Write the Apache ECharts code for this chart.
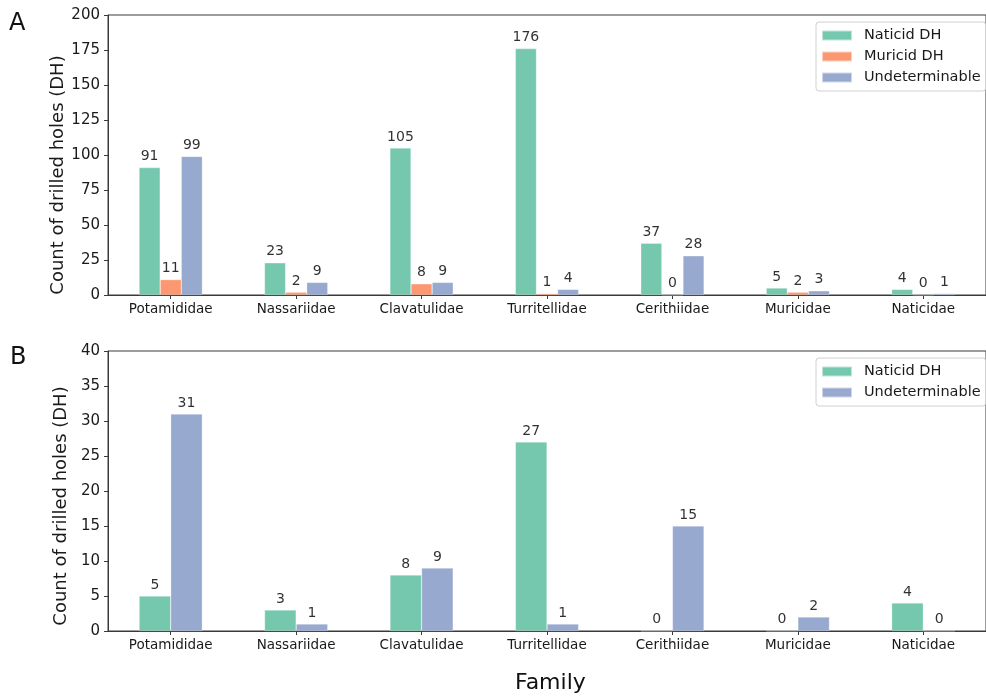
<!DOCTYPE html>
<html>
<head>
<meta charset="utf-8">
<script src="https://cdn.jsdelivr.net/npm/echarts@6/dist/echarts.min.js"></script>
<style>
html,body{margin:0;padding:0;background:#fff;}
#chart{width:986px;height:698px;}
</style>
</head>
<body>
<div id="chart"></div>
<script>
const families = ['Potamididae','Nassariidae','Clavatulidae','Turritellidae','Cerithiidae','Muricidae','Naticidae'];
// Panel A
const naticidA = [91, 23, 105, 176, 37, 5, 4];
const muricidA = [11, 2, 8, 1, 0, 2, 0];
const undetA   = [99, 9, 9, 4, 28, 3, 1];
// Panel B
const naticidB = [5, 3, 8, 27, 0, 0, 4];
const undetB   = [31, 1, 9, 1, 15, 2, 0];
const yTicksA = {min: 0, max: 200, interval: 25};
const yTicksB = {min: 0, max: 40, interval: 5};
const yTitle = 'Count of drilled holes (DH)';

const FONT = 'DejaVu Sans';
const TXT = '#1a1a1a';
const SPINE = '#3a3a3a';
const C_NAT = '#66c2a5', C_MUR = '#fc8d62', C_UND = '#8da0cb';

const chart = echarts.init(document.getElementById('chart'), null, {renderer: 'canvas'});

function xAxis(gi) {
  return {
    type: 'category', gridIndex: gi, data: families,
    axisLine: {show: true, lineStyle: {color: SPINE, width: 1}},
    axisTick: {show: true, alignWithLabel: true, length: 4, lineStyle: {color: SPINE}},
    axisLabel: {color: TXT, fontFamily: FONT, fontSize: 13.5, margin: 7},
    splitLine: {show: false}
  };
}
function yAxis(gi, t) {
  return {
    type: 'value', gridIndex: gi, min: t.min, max: t.max, interval: t.interval,
    axisLine: {show: true, lineStyle: {color: SPINE, width: 1}},
    axisTick: {show: true, length: 4, lineStyle: {color: SPINE}},
    axisLabel: {color: TXT, fontFamily: FONT, fontSize: 15, margin: 8},
    splitLine: {show: false}
  };
}
function bar(name, data, color, xi, bw) {
  return {
    type: 'bar', name: name, data: data, xAxisIndex: xi, yAxisIndex: xi,
    barWidth: bw, barGap: '0%',
    itemStyle: {color: color, opacity: 0.9, borderColor: 'rgba(255,255,255,0.6)', borderWidth: 0.5},
    label: {show: true, position: 'top', distance: 4, color: TXT, fontFamily: FONT, fontSize: 14},
    emphasis: {disabled: true},
    animation: false
  };
}
const legendBase = {
  orient: 'vertical', left: 816, itemWidth: 30, itemHeight: 10, itemGap: 6,
  padding: [6, 5, 6, 5],
  backgroundColor: '#fff', borderColor: '#d0d0d0', borderWidth: 1, borderRadius: 3,
  textStyle: {color: TXT, fontFamily: FONT, fontSize: 14.5, padding: [0, 0, 0, 7]},
  icon: 'rect', selectedMode: false
};
function rotTitle(x, y) {
  return {type: 'text', x: x, y: y, rotation: Math.PI / 2,
    style: {text: yTitle, font: '18px "DejaVu Sans"', fill: TXT, textAlign: 'center', textVerticalAlign: 'middle'}};
}

chart.setOption({
  animation: false,
  backgroundColor: '#fff',
  grid: [
    {left: 108, right: -8, top: 15, height: 280, show: true, borderColor: SPINE, borderWidth: 1, backgroundColor: 'transparent'},
    {left: 108, right: -8, top: 351, height: 280, show: true, borderColor: SPINE, borderWidth: 1, backgroundColor: 'transparent'}
  ],
  xAxis: [xAxis(0), xAxis(1)],
  yAxis: [yAxis(0, yTicksA), yAxis(1, yTicksB)],
  legend: [
    Object.assign({}, legendBase, {top: 22, data: ['Naticid DH', 'Muricid DH', 'Undeterminable']}),
    Object.assign({}, legendBase, {top: 358, data: ['Naticid DH', 'Undeterminable']})
  ],
  series: [
    bar('Naticid DH', naticidA, C_NAT, 0, 21.1),
    bar('Muricid DH', muricidA, C_MUR, 0, 21.1),
    bar('Undeterminable', undetA, C_UND, 0, 21.1),
    bar('Naticid DH', naticidB, C_NAT, 1, 31.6),
    bar('Undeterminable', undetB, C_UND, 1, 31.6)
  ],
  graphic: [
    {type: 'text', left: 9, top: 12, style: {text: 'A', font: '24px "DejaVu Sans"', fill: '#111'}},
    {type: 'text', left: 10, top: 346, style: {text: 'B', font: '24px "DejaVu Sans"', fill: '#111'}},
    {type: 'text', left: 515, top: 672, style: {text: 'Family', font: '22px "DejaVu Sans"', fill: '#111'}},
    rotTitle(58, 175),
    rotTitle(61, 506)
  ]
});
</script>
</body>
</html>
